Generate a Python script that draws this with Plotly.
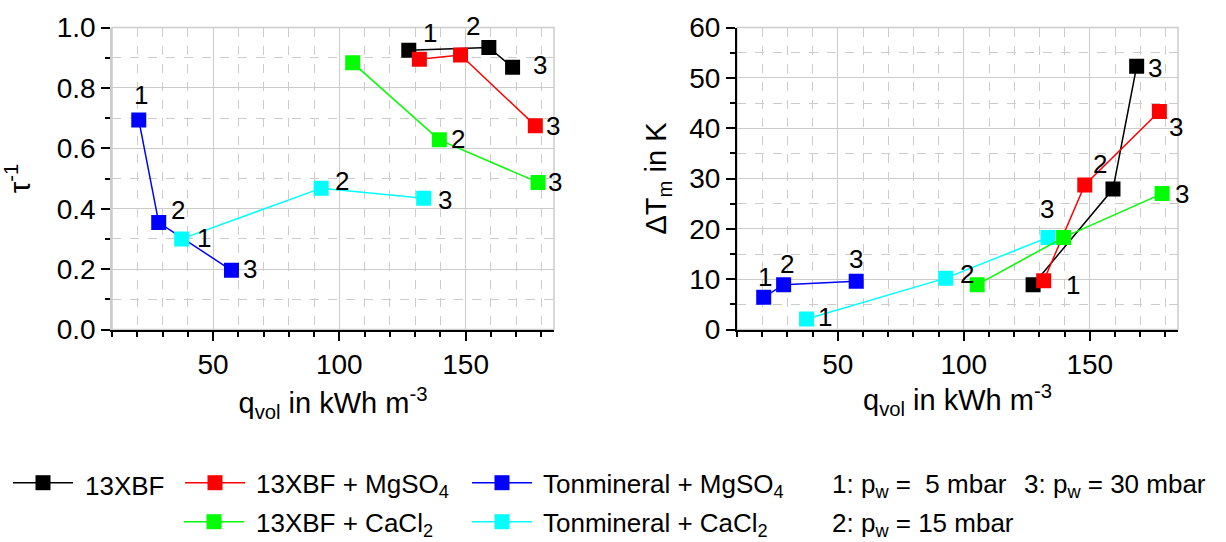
import plotly.graph_objects as go

# ---- data -------------------------------------------------------------
series_names = [
    "13XBF",
    "13XBF + MgSO<sub>4</sub>",
    "Tonmineral + MgSO<sub>4</sub>",
    "13XBF + CaCl<sub>2</sub>",
    "Tonmineral + CaCl<sub>2</sub>",
]
series_colors = ["#000000", "#ff0000", "#0000ff", "#00ff00", "#00ffff"]

# volumetric storage density q_vol (kWh m^-3) at p_w = 5, 15, 30 mbar
q_black = [127.5, 159.2, 168.6]
q_red = [131.7, 148.0, 177.6]
q_blue = [20.6, 28.5, 57.3]
q_green = [105.3, 139.6, 178.7]
q_cyan = [37.6, 92.8, 133.4]

# inverse time constant tau^-1
tau_black = [0.925, 0.934, 0.868]
tau_red = [0.895, 0.909, 0.675]
tau_blue = [0.694, 0.354, 0.196]
tau_green = [0.883, 0.628, 0.487]
tau_cyan = [0.300, 0.468, 0.435]

# mean temperature lift dT_m (K)
dT_black = [8.9, 27.9, 52.3]
dT_red = [9.7, 28.7, 43.3]
dT_blue = [6.4, 8.9, 9.6]
dT_green = [8.9, 18.3, 27.0]
dT_cyan = [2.1, 10.2, 18.3]

q_all = [q_black, q_red, q_blue, q_green, q_cyan]
tau_all = [tau_black, tau_red, tau_blue, tau_green, tau_cyan]
dT_all = [dT_black, dT_red, dT_blue, dT_green, dT_cyan]

point_labels = ["1", "2", "3"]
pressure_notes = ["1: p<sub>w</sub> =\u00a0 5 mbar", "2: p<sub>w</sub> = 15 mbar",
                  "3: p<sub>w</sub> = 30 mbar"]

# which point numbers are written next to the markers: (series, point, dx, dy)
labels_left = [
    (0, 0, 21, 17), (0, 1, -16, 21), (0, 2, 27, 2),
    (1, 2, 18, 0),
    (3, 1, 19, 1), (3, 2, 17, 0),
    (2, 0, 2, 25), (2, 1, 19, 13), (2, 2, 19, 1),
    (4, 0, 22, 1), (4, 1, 21, 7), (4, 2, 21, -2),
]
labels_right = [
    (0, 2, 18, -2),
    (1, 0, 29, -4), (1, 1, 15, 21), (1, 2, 17, -15),
    (3, 2, 20, 0),
    (4, 0, 18, 2), (4, 1, 21, 4), (4, 2, -1, 28),
    (2, 0, 1, 20), (2, 1, 3, 21), (2, 2, 0, 22),
]

# ---- layout helpers ---------------------------------------------------
W, H = 1226, 542
FONT = "Liberation Sans, Arial, sans-serif"


def px(x):
    return x / W


def py(y):
    return 1 - y / H


GRID = "#cccccc"

fig = go.Figure()

draw_order = [0, 1, 2, 4, 3]
for i in draw_order:
    for xa, ya, yvals in (("x", "y", tau_all), ("x2", "y2", dT_all)):
        fig.add_trace(go.Scatter(
            x=q_all[i], y=yvals[i], xaxis=xa, yaxis=ya,
            mode="lines+markers", name=series_names[i], showlegend=False,
            line=dict(color=series_colors[i], width=1.5),
            marker=dict(symbol="square", size=15, color=series_colors[i],
                        line=dict(width=0)),
        ))

annotations = []
for spec, xr, yr, yvals in ((labels_left, "x", "y", tau_all),
                            (labels_right, "x2", "y2", dT_all)):
    for s, p, dx, dy in spec:
        annotations.append(dict(
            x=q_all[s][p], y=yvals[s][p], xref=xr, yref=yr,
            text=point_labels[p], showarrow=False, xshift=dx, yshift=dy,
            font=dict(size=26, color="black", family=FONT)))

# legend, drawn as key lines with square markers plus text
legend_rows = {0: 482.7, 1: 521.7}
legend_items = [  # (series, row, line start x, text x)
    (0, 0, 13, 83),
    (1, 0, 185, 254),
    (2, 0, 472, 541),
    (3, 1, 184, 254),
    (4, 1, 472, 541),
]
shapes = []
for s, row, x0, tx in legend_items:
    yy = legend_rows[row]
    shapes.append(dict(type="line", xref="paper", yref="paper",
                       x0=px(x0), x1=px(x0 + 60), y0=py(yy), y1=py(yy),
                       line=dict(color=series_colors[s], width=1.5)))
    cx = x0 + 30
    shapes.append(dict(type="rect", xref="paper", yref="paper",
                       x0=px(cx - 7.5), x1=px(cx + 7.5),
                       y0=py(yy + 7.5), y1=py(yy - 7.5),
                       fillcolor=series_colors[s], line=dict(width=0)))
    annotations.append(dict(x=px(tx), y=py(yy), xref="paper", yref="paper",
                            text=series_names[s], showarrow=False,
                            xanchor="left", yanchor="middle", yshift=-3,
                            font=dict(size=26, color="black", family=FONT)))
for note, (tx, row) in zip(pressure_notes, [(830, 0), (830, 1), (1022, 0)]):
    annotations.append(dict(x=px(tx), y=py(legend_rows[row]), xref="paper",
                            yref="paper", text=note, showarrow=False,
                            xanchor="left", yanchor="middle", yshift=-3,
                            font=dict(size=26, color="black", family=FONT)))

# gray frame around each plot area
for xr, yr in (("x domain", "y domain"), ("x2 domain", "y2 domain")):
    shapes.append(dict(type="rect", xref=xr, yref=yr, x0=0, x1=1, y0=0, y1=1,
                       line=dict(color=GRID, width=1.5), layer="below"))

ydom = [py(329.5), py(27.5)]
xdom_left = [px(112), px(554)]
xdom_right = [px(737), px(1178)]

tickfont = dict(size=28, color="black", family=FONT)
titlefont = dict(size=29, color="black", family=FONT)


def xaxis_cfg(domain, anchor, standoff):
    return dict(
        domain=domain, anchor=anchor, range=[10, 185],
        tick0=0, dtick=50, ticks="outside", ticklen=9, tickwidth=2,
        tickcolor="black", showline=True, linecolor="black", linewidth=2,
        showgrid=True, gridcolor=GRID, gridwidth=1, zeroline=False,
        tickfont=tickfont, automargin=False,
        minor=dict(tick0=0, dtick=10, ticks="outside", ticklen=5,
                   tickwidth=2, tickcolor="black", showgrid=True,
                   gridcolor=GRID, griddash="dash", gridwidth=1),
        title=dict(text="q<sub>vol</sub> in kWh m<sup>-3</sup>",
                   font=titlefont, standoff=standoff),
    )


fig.update_layout(
    width=W, height=H,
    margin=dict(l=0, r=0, t=0, b=0),
    paper_bgcolor="white", plot_bgcolor="white",
    font=dict(family=FONT, color="black"),
    xaxis=xaxis_cfg(xdom_left, "y", 14),
    xaxis2=xaxis_cfg(xdom_right, "y2", 6),
    yaxis=dict(
        domain=ydom, anchor="x", range=[0, 1.0], tick0=0, dtick=0.2,
        tickformat=".1f", ticks="outside", ticklen=9, tickwidth=2,
        tickcolor="black", showline=True, linecolor=GRID, linewidth=1.5,
        showgrid=True, gridcolor=GRID, gridwidth=1, zeroline=False,
        tickfont=tickfont, automargin=False,
        minor=dict(tick0=0, dtick=0.1, ticks="outside", ticklen=5,
                   tickwidth=2, tickcolor="black", showgrid=True,
                   gridcolor=GRID, griddash="dash", gridwidth=1),
        title=dict(text="τ<sup>-1</sup>", font=titlefont, standoff=18),
    ),
    yaxis2=dict(
        domain=ydom, anchor="x2", range=[0, 60], tick0=0, dtick=10,
        ticks="outside", ticklen=9, tickwidth=2,
        tickcolor="black", showline=True, linecolor="black", linewidth=2,
        showgrid=True, gridcolor=GRID, gridwidth=1, zeroline=False,
        tickfont=tickfont, automargin=False,
        minor=dict(tick0=0, dtick=5, ticks="outside", ticklen=5,
                   tickwidth=2, tickcolor="black", showgrid=True,
                   gridcolor=GRID, griddash="dash", gridwidth=1),
        title=dict(text="ΔT<sub>m</sub> in K", font=titlefont, standoff=14),
    ),
    shapes=shapes,
    annotations=annotations,
)

fig.write_html("out.html")
